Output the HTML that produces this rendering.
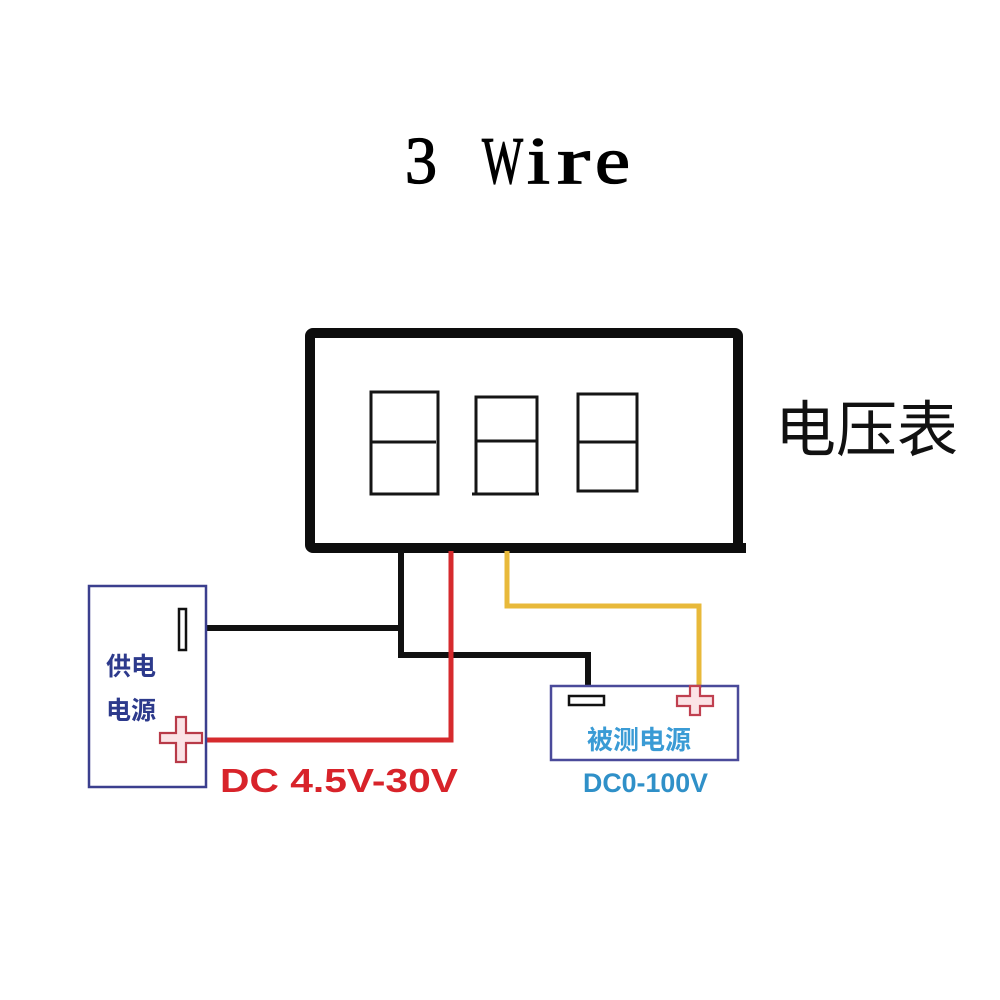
<!DOCTYPE html>
<html><head><meta charset="utf-8"><style>
html,body{margin:0;padding:0;background:#fff;}
svg{display:block;}
</style></head><body>
<svg width="1000" height="1000" viewBox="0 0 1000 1000" xmlns="http://www.w3.org/2000/svg">
<rect width="1000" height="1000" fill="#ffffff"/>
<!-- Title -->
<g font-family="'Liberation Serif', serif" font-size="67" fill="#000" stroke="#000" stroke-width="1.3">
<text x="405" y="183" textLength="32" lengthAdjust="spacingAndGlyphs">3</text>
<text x="482" y="183" textLength="41" lengthAdjust="spacingAndGlyphs">W</text>
<text x="527" y="183" textLength="23" lengthAdjust="spacingAndGlyphs">i</text>
<text x="557" y="183" textLength="33" lengthAdjust="spacingAndGlyphs">r</text>
<text x="595" y="183" textLength="35" lengthAdjust="spacingAndGlyphs">e</text>
</g>
<!-- Display -->
<rect x="310" y="333" width="428" height="215" rx="3" fill="none" stroke="#0d0d0d" stroke-width="10"/>
<line x1="735" y1="548" x2="746" y2="548" stroke="#0d0d0d" stroke-width="10"/>
<g fill="none" stroke="#151515" stroke-width="3">
<rect x="371" y="392" width="67" height="102"/>
<line x1="371" y1="442" x2="436" y2="442"/>
<rect x="476" y="397" width="61" height="97"/>
<line x1="472" y1="494" x2="539" y2="494"/>
<line x1="476" y1="441" x2="537" y2="441"/>
<rect x="578" y="394" width="59" height="97"/>
<line x1="578" y1="442" x2="637" y2="442"/>
</g>
<text x="775" y="451" font-family="'Liberation Sans','Noto Sans CJK SC',sans-serif" font-size="61" fill="#111">电压表</text>
<!-- Wires -->
<path d="M205,628 H401 M401,550 V655 H588 V686" fill="none" stroke="#111" stroke-width="6"/>
<path d="M507,551 V606 H699 V688" fill="none" stroke="#e8b93a" stroke-width="5"/>
<path d="M205,740 H451 V551" fill="none" stroke="#d62a2d" stroke-width="5"/>
<!-- Power box -->
<rect x="89" y="586" width="117" height="201" fill="none" stroke="#3b3f8e" stroke-width="2.5"/>
<rect x="179" y="609" width="7" height="41" fill="#fff" stroke="#111" stroke-width="2.5"/>
<path d="M176,717 H186 V733 H202 V743 H186 V762 H176 V743 H160 V733 H176 Z" fill="#fbe3e6" stroke="#b83a48" stroke-width="2.2"/>
<g font-family="'Liberation Sans','Noto Sans CJK SC',sans-serif" font-size="25" font-weight="bold" fill="#2d3a8c">
<text x="106" y="675">供电</text>
<text x="106" y="719">电源</text>
</g>
<text x="220" y="792" font-family="'Liberation Sans',sans-serif" font-size="33" font-weight="bold" fill="#d8232a" textLength="238" lengthAdjust="spacingAndGlyphs">DC 4.5V-30V</text>
<!-- Measured source box -->
<rect x="551" y="686" width="187" height="74" fill="none" stroke="#4a4a9a" stroke-width="2.5"/>
<rect x="569" y="696" width="35" height="9" fill="#fff" stroke="#111" stroke-width="2.5"/>
<path d="M690,686 H700 V696 H713 V706 H700 V715 H690 V706 H677 V696 H690 Z" fill="#fbe3e6" stroke="#c04050" stroke-width="2.2"/>
<text x="587" y="749" font-family="'Liberation Sans','Noto Sans CJK SC',sans-serif" font-size="26" font-weight="bold" fill="#3a9bd5">被测电源</text>
<text x="583" y="792" font-family="'Liberation Sans',sans-serif" font-size="27" font-weight="bold" fill="#2f90c8" textLength="125" lengthAdjust="spacingAndGlyphs">DC0-100V</text>
</svg>
</body></html>
